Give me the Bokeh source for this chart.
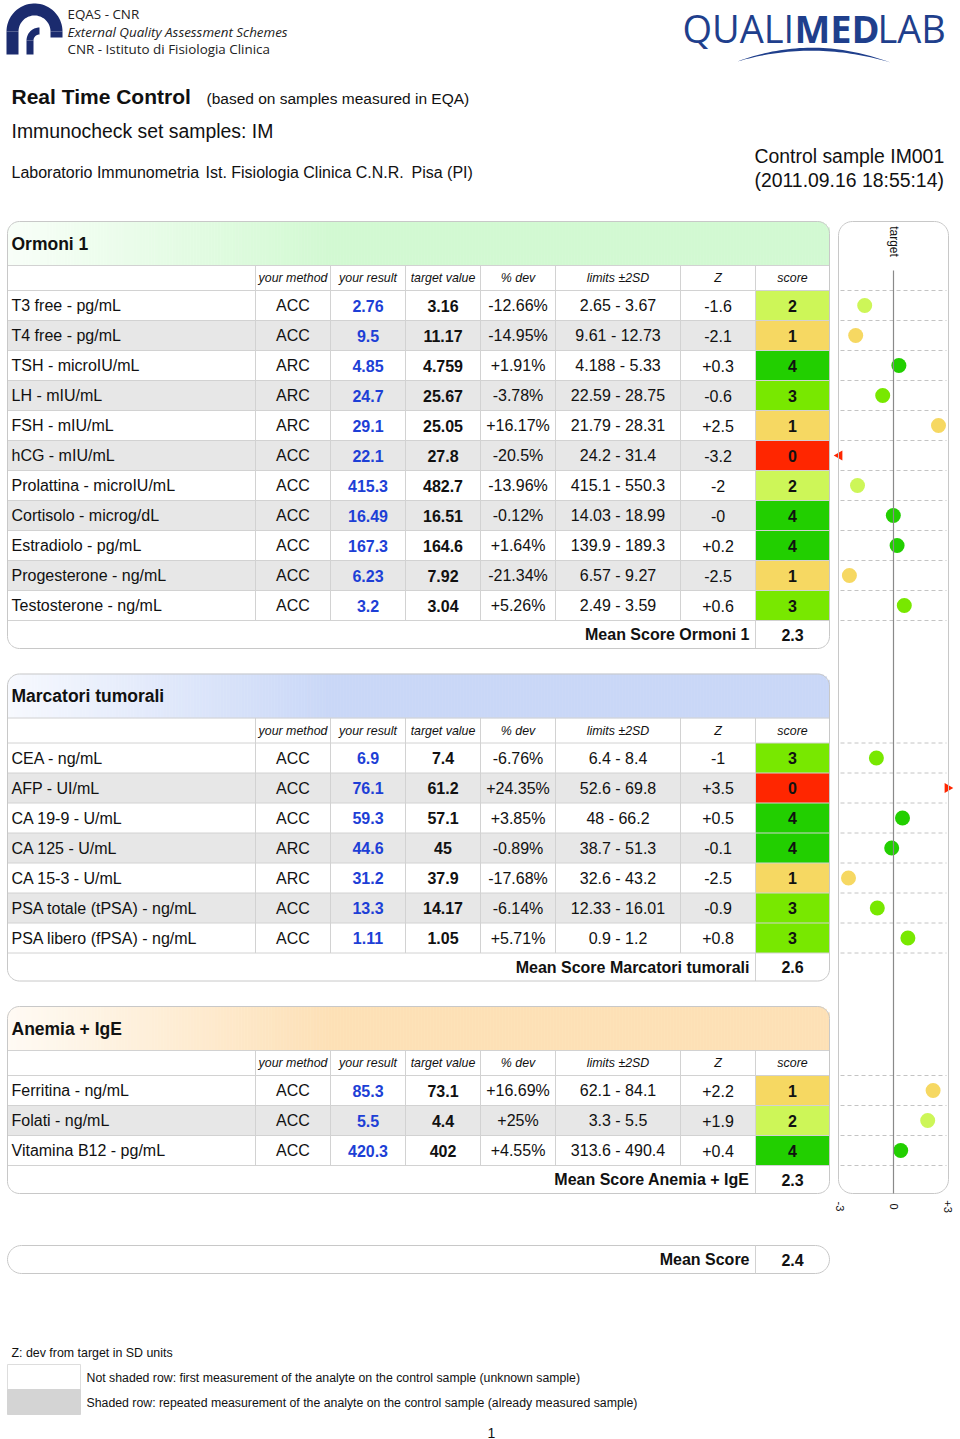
import numpy as np
from bokeh.plotting import figure
from bokeh.models import Range1d
from bokeh.core.properties import value
from bokeh.embed import file_html
from bokeh.resources import INLINE

# ---------------- data ----------------
section_titles = ["Ormoni 1", "Marcatori tumorali", "Anemia + IgE"]
column_labels = ["", "your method", "your result", "target value", "% dev", "limits \u00b12SD", "Z", "score"]

ormoni_analyte = ["T3 free - pg/mL", "T4 free - pg/mL", "TSH - microIU/mL", "LH - mIU/mL", "FSH - mIU/mL",
                  "hCG - mIU/mL", "Prolattina - microIU/mL", "Cortisolo - microg/dL", "Estradiolo - pg/mL",
                  "Progesterone - ng/mL", "Testosterone - ng/mL"]
ormoni_method = ["ACC", "ACC", "ARC", "ARC", "ARC", "ACC", "ACC", "ACC", "ACC", "ACC", "ACC"]
ormoni_result = ["2.76", "9.5", "4.85", "24.7", "29.1", "22.1", "415.3", "16.49", "167.3", "6.23", "3.2"]
ormoni_target = ["3.16", "11.17", "4.759", "25.67", "25.05", "27.8", "482.7", "16.51", "164.6", "7.92", "3.04"]
ormoni_dev = ["-12.66%", "-14.95%", "+1.91%", "-3.78%", "+16.17%", "-20.5%", "-13.96%", "-0.12%", "+1.64%",
              "-21.34%", "+5.26%"]
ormoni_limits = ["2.65 - 3.67", "9.61 - 12.73", "4.188 - 5.33", "22.59 - 28.75", "21.79 - 28.31", "24.2 - 31.4",
                 "415.1 - 550.3", "14.03 - 18.99", "139.9 - 189.3", "6.57 - 9.27", "2.49 - 3.59"]
ormoni_z_text = ["-1.6", "-2.1", "+0.3", "-0.6", "+2.5", "-3.2", "-2", "-0", "+0.2", "-2.5", "+0.6"]
ormoni_z = [-1.6, -2.1, 0.3, -0.6, 2.5, -3.2, -2.0, -0.01, 0.2, -2.45, 0.6]
ormoni_score = [2, 1, 4, 3, 1, 0, 2, 4, 4, 1, 3]
ormoni_shaded = [0, 1, 0, 1, 0, 1, 0, 1, 0, 1, 0]
ormoni_mean = "2.3"

marcatori_analyte = ["CEA - ng/mL", "AFP - UI/mL", "CA 19-9 - U/mL", "CA 125 - U/mL", "CA 15-3 - U/mL",
                     "PSA totale (tPSA) - ng/mL", "PSA libero (fPSA) - ng/mL"]
marcatori_method = ["ACC", "ACC", "ACC", "ARC", "ARC", "ACC", "ACC"]
marcatori_result = ["6.9", "76.1", "59.3", "44.6", "31.2", "13.3", "1.11"]
marcatori_target = ["7.4", "61.2", "57.1", "45", "37.9", "14.17", "1.05"]
marcatori_dev = ["-6.76%", "+24.35%", "+3.85%", "-0.89%", "-17.68%", "-6.14%", "+5.71%"]
marcatori_limits = ["6.4 - 8.4", "52.6 - 69.8", "48 - 66.2", "38.7 - 51.3", "32.6 - 43.2", "12.33 - 16.01",
                    "0.9 - 1.2"]
marcatori_z_text = ["-1", "+3.5", "+0.5", "-0.1", "-2.5", "-0.9", "+0.8"]
marcatori_z = [-0.95, 3.5, 0.5, -0.1, -2.5, -0.9, 0.8]
marcatori_score = [3, 0, 4, 4, 1, 3, 3]
marcatori_shaded = [0, 1, 0, 1, 0, 1, 0]
marcatori_mean = "2.6"

anemia_analyte = ["Ferritina - ng/mL", "Folati - ng/mL", "Vitamina B12 - pg/mL"]
anemia_method = ["ACC", "ACC", "ACC"]
anemia_result = ["85.3", "5.5", "420.3"]
anemia_target = ["73.1", "4.4", "402"]
anemia_dev = ["+16.69%", "+25%", "+4.55%"]
anemia_limits = ["62.1 - 84.1", "3.3 - 5.5", "313.6 - 490.4"]
anemia_z_text = ["+2.2", "+1.9", "+0.4"]
anemia_z = [2.2, 1.9, 0.4]
anemia_score = [1, 2, 4]
anemia_shaded = [0, 1, 0]
anemia_mean = "2.3"

overall_mean = "2.4"
z_axis_labels = ["-3", "0", "+3"]
z_axis_values = [-3, 0, 3]

score_colors = {4: "#22cf00", 3: "#78e800", 2: "#cdf658", 1: "#f6d862", 0: "#ff2600"}
header_colors = ["#d2f9d2", "#c9d7f7", "#fde0b6"]

sections = [
    dict(title=section_titles[0], analyte=ormoni_analyte, method=ormoni_method, result=ormoni_result,
         target=ormoni_target, dev=ormoni_dev, limits=ormoni_limits, ztext=ormoni_z_text, z=ormoni_z,
         score=ormoni_score, shaded=ormoni_shaded, mean=ormoni_mean, color=header_colors[0]),
    dict(title=section_titles[1], analyte=marcatori_analyte, method=marcatori_method, result=marcatori_result,
         target=marcatori_target, dev=marcatori_dev, limits=marcatori_limits, ztext=marcatori_z_text,
         z=marcatori_z, score=marcatori_score, shaded=marcatori_shaded, mean=marcatori_mean,
         color=header_colors[1]),
    dict(title=section_titles[2], analyte=anemia_analyte, method=anemia_method, result=anemia_result,
         target=anemia_target, dev=anemia_dev, limits=anemia_limits, ztext=anemia_z_text, z=anemia_z,
         score=anemia_score, shaded=anemia_shaded, mean=anemia_mean, color=header_colors[2]),
]

# ---------------- helpers ----------------
FONT = "Liberation Sans"
TXT = "#111111"
GRID = "#d2d2d2"
BORDER = "#c8c8c8"
BODY = "16px"


def rounded_rect(x0, y0, x1, y1, r, corners=(True, True, True, True)):
    xs, ys = [], []
    specs = [((x0 + r, y0 + r), np.pi, 1.5 * np.pi, (x0, y0)),
             ((x1 - r, y0 + r), 1.5 * np.pi, 2 * np.pi, (x1, y0)),
             ((x1 - r, y1 - r), 0.0, 0.5 * np.pi, (x1, y1)),
             ((x0 + r, y1 - r), 0.5 * np.pi, np.pi, (x0, y1))]
    for rounded, (c, a0, a1, pt) in zip(corners, specs):
        if rounded:
            a = np.linspace(a0, a1, 12)
            xs.extend(c[0] + r * np.cos(a))
            ys.extend(c[1] + r * np.sin(a))
        else:
            xs.append(pt[0])
            ys.append(pt[1])
    return list(xs), list(ys)


def mix(c, t):
    c = c.lstrip("#")
    rgb = [int(c[i:i + 2], 16) for i in (0, 2, 4)]
    out = [round(255 + (v - 255) * t) for v in rgb]
    return "#%02x%02x%02x" % tuple(out)


p = figure(width=960, height=1439, x_range=Range1d(0, 960), y_range=Range1d(1439, 0),
           output_backend="svg", toolbar_location=None, min_border=0,
           x_axis_location=None, y_axis_location=None)
p.grid.visible = False
p.outline_line_color = None
p.background_fill_color = "white"
p.border_fill_color = "white"
# Z scale: 0 at pixel 893, 18 px per SD unit
p.extra_x_ranges = {"z": Range1d((0 - 893) / 18.0, (960 - 893) / 18.0)}


def text(x, y, t, size=BODY, style="normal", color=TXT, align="left", baseline="middle",
         font=FONT, angle=0.0, x_range_name="default"):
    if not isinstance(t, list):
        t = [t]
    if not isinstance(x, list):
        x = [x] * len(t)
    if not isinstance(y, list):
        y = [y] * len(t)
    p.text(x=x, y=y, text=t, text_font=value(font), text_font_size=size, text_font_style=style,
           text_color=color, text_align=align, text_baseline=baseline, angle=angle,
           x_range_name=x_range_name)


# ---------------- page header ----------------
NAVY = "#1b2b6e"


def arc_band(cx, cy, r_in, r_out, a0, a1, n=40):
    a = np.linspace(a0, a1, n)
    xs = list(cx + r_out * np.cos(a)) + list(cx + r_in * np.cos(a[::-1]))
    ys = list(cy - r_out * np.sin(a)) + list(cy - r_in * np.sin(a[::-1]))
    return xs, ys


# CNR logo (approximation)
xs, ys = arc_band(34, 31, 16, 28, 0, np.pi)
p.patch(xs, ys, fill_color=NAVY, line_color=None)
p.quad(left=[6], right=[18], top=[31], bottom=[54], fill_color=NAVY, line_color=None)
p.quad(left=[50], right=[62], top=[31], bottom=[37], fill_color=NAVY, line_color=None)
xs, ys = arc_band(39, 40, 6, 13, np.pi / 2, np.pi)
p.patch(xs, ys, fill_color=NAVY, line_color=None)
p.quad(left=[26], right=[33], top=[40], bottom=[54], fill_color=NAVY, line_color=None)

text(67, 13, "EQAS - CNR", size="13.4px", font="Open Sans", color="#222222")
text(67, 31, "External Quality Assessment Schemes", size="13.4px", font="Open Sans", style="italic",
     color="#222222")
text(67, 48, "CNR - Istituto di Fisiologia Clinica", size="13.4px", font="Open Sans", color="#222222")

QBLUE = "#1f3f8c"
text(682, 27, "QUALI", size="38px", font="Open Sans", color=QBLUE, align="left")
text(794, 27, "MED", size="38px", font="Open Sans", style="bold", color=QBLUE, align="left")
text(877, 27, "LAB", size="38px", font="Open Sans", color=QBLUE, align="left")
t = np.linspace(0, 1, 40)
ux = (1 - t) ** 2 * 737 + 2 * (1 - t) * t * 812 + t ** 2 * 890
uy = (1 - t) ** 2 * 61 + 2 * (1 - t) * t * 33 + t ** 2 * 62
ly = (1 - t) ** 2 * 61 + 2 * (1 - t) * t * 39 + t ** 2 * 62
p.patch(list(ux) + list(ux[::-1]), list(uy) + list(ly[::-1]), fill_color=QBLUE, line_color=None)

text(11, 96, "Real Time Control", size="21px", style="bold")
text(206, 98, "(based on samples measured in EQA)", size="15.5px")
text(11, 130, "Immunocheck set samples: IM", size="19.4px")
text(11, 172, "Laboratorio Immunometria", size="16px")
text(205, 172, "Ist. Fisiologia Clinica C.N.R.", size="16px")
text(411, 172, "Pisa (PI)", size="16px")
text(754, 155, "Control sample IM001", size="19.4px")
text(754, 179, "(2011.09.16 18:55:14)", size="19.4px")

# ---------------- tables ----------------
X0, X1 = 7, 829
col_edges = [7, 255, 330, 405, 480, 555, 680, 755, 829]
col_centers = [(a + b) / 2 for a, b in zip(col_edges[:-1], col_edges[1:])]
HEAD_H, COLH_H, ROW_H, MEAN_H, GAP = 44, 25, 30, 28, 25.5
R = 12

ZL, ZR = 838, 948
dash_lines_x, dash_lines_y = [], []
top = 221
panel_top = top
for s in sections:
    n = len(s["analyte"])
    y_hb = top + HEAD_H
    rows_top = y_hb + COLH_H
    rows_b = rows_top + n * ROW_H
    bottom = rows_b + MEAN_H
    centers = [rows_top + ROW_H * (i + 0.5) for i in range(n)]

    xs, ys = rounded_rect(X0, top, X1, bottom, R)
    p.patch(xs, ys, fill_color="white", line_color=None)

    # gradient header
    w = 3.0
    lefts = np.arange(X0, X1, w)
    rights = np.minimum(lefts + w, X1)
    mids = (lefts + rights) / 2
    tops = []
    for xm in mids:
        inset = 0.0
        if xm < X0 + R:
            d = X0 + R - xm
            inset = R - np.sqrt(max(R * R - d * d, 0))
        elif xm > X1 - R:
            d = xm - (X1 - R)
            inset = R - np.sqrt(max(R * R - d * d, 0))
        tops.append(top + inset)
    cols = [mix(s["color"], min(1.0, 0.15 + (xm - X0) / 380.0)) for xm in mids]
    p.quad(left=list(lefts), right=list(rights), top=tops, bottom=[y_hb] * len(mids),
           fill_color=cols, line_color=cols, line_width=0.6)

    # shaded rows and score cells
    sh = [i for i in range(n) if s["shaded"][i]]
    p.quad(left=[X0] * len(sh), right=[755] * len(sh), top=[rows_top + ROW_H * i for i in sh],
           bottom=[rows_top + ROW_H * (i + 1) for i in sh], fill_color="#e7e7e7", line_color=None)
    p.quad(left=[755] * n, right=[X1] * n, top=[rows_top + ROW_H * i for i in range(n)],
           bottom=[rows_top + ROW_H * (i + 1) for i in range(n)],
           fill_color=[score_colors[v] for v in s["score"]], line_color=None)

    # grid lines
    gx, gy = [], []
    for yy in [y_hb, rows_top] + [rows_top + ROW_H * (i + 1) for i in range(n)]:
        gx.append([X0, X1]); gy.append([yy, yy])
    for xx in col_edges[1:-1]:
        gx.append([xx, xx]); gy.append([y_hb, rows_b])
    gx.append([755, 755]); gy.append([rows_b, bottom])
    p.multi_line(gx, gy, line_color=GRID, line_width=1)

    xs, ys = rounded_rect(X0, top, X1, bottom, R)
    p.patch(xs, ys, fill_color=None, line_color=BORDER, line_width=1)

    # texts
    text(11, top + 22, s["title"], size="17.5px", style="bold")
    text(col_centers[1:], y_hb + COLH_H / 2, column_labels[1:], size="12.4px", style="italic", align="center")
    text(11, centers, s["analyte"])
    text(col_centers[1], centers, s["method"], align="center")
    text(col_centers[2], centers, s["result"], style="bold", color="#1d3fd6", align="center")
    text(col_centers[3], centers, s["target"], style="bold", align="center")
    text(col_centers[4], centers, s["dev"], align="center")
    text(col_centers[5], centers, s["limits"], align="center")
    text(col_centers[6], centers, s["ztext"], align="center")
    text(col_centers[7], centers, [str(v) for v in s["score"]], style="bold", align="center")
    text(749, rows_b + MEAN_H / 2, "Mean Score " + s["title"], style="bold", align="right")
    text(col_centers[7], rows_b + MEAN_H / 2, s["mean"], style="bold", align="center")

    # Z dots
    inside = [i for i in range(n) if abs(s["z"][i]) <= 3]
    p.scatter(x=[s["z"][i] for i in inside], y=[centers[i] for i in inside], size=15,
              fill_color=[score_colors[s["score"][i]] for i in inside], line_color=None,
              x_range_name="z")
    outside = [i for i in range(n) if abs(s["z"][i]) > 3]
    for i in outside:
        zc = float(np.sign(s["z"][i]) * 3)
        ang = np.pi / 2 if zc < 0 else -np.pi / 2
        p.scatter(x=[zc], y=[centers[i]], marker="triangle", size=10, angle=ang,
                  fill_color=score_colors[0], line_color=None, x_range_name="z")

    for yy in [rows_top] + [rows_top + ROW_H * (i + 1) for i in range(n)]:
        dash_lines_x.append([ZL + 2, ZR - 2]); dash_lines_y.append([yy, yy])

    top = bottom + GAP
    panel_bottom = bottom

# Z panel
xs, ys = rounded_rect(ZL, panel_top, ZR, panel_bottom, 14)
p.patch(xs, ys, fill_color=None, line_color=BORDER, line_width=1)
p.multi_line(dash_lines_x, dash_lines_y, line_color="#c4c4c4", line_dash="4 3", line_width=1)
p.segment(x0=[0], y0=[270], x1=[0], y1=[panel_bottom], line_color="#8a8a8a", line_width=1.2,
          x_range_name="z")
text(0, 241, "target", size="12px", align="center", angle=-np.pi / 2, x_range_name="z")
text(z_axis_values, panel_bottom + 13, z_axis_labels, size="11px", align="center", angle=-np.pi / 2,
     x_range_name="z")

# Overall mean score box
MY0, MY1 = 1245, 1273
xs, ys = rounded_rect(X0, MY0, X1, MY1, 14)
p.patch(xs, ys, fill_color="white", line_color=BORDER, line_width=1)
p.segment(x0=[755], y0=[MY0], x1=[755], y1=[MY1], line_color=GRID)
text(749, (MY0 + MY1) / 2, "Mean Score", style="bold", align="right")
text(col_centers[7], (MY0 + MY1) / 2, overall_mean, style="bold", align="center")

# Legend
text(11, 1352, "Z: dev from target in SD units", size="12.4px")
p.quad(left=[7], right=[80], top=[1364], bottom=[1389], fill_color="white", line_color="#dddddd")
p.quad(left=[7], right=[80], top=[1389], bottom=[1414], fill_color="#d4d4d4", line_color="#d4d4d4")
text(86, 1377, "Not shaded row: first measurement of the analyte on the control sample (unknown sample)",
     size="12.3px")
text(86, 1402, "Shaded row: repeated measurement of the analyte on the control sample (already measured sample)",
     size="12.3px")
text(491, 1432, "1", size="14px", align="center")

open("out.html", "w").write(file_html(p, INLINE))
